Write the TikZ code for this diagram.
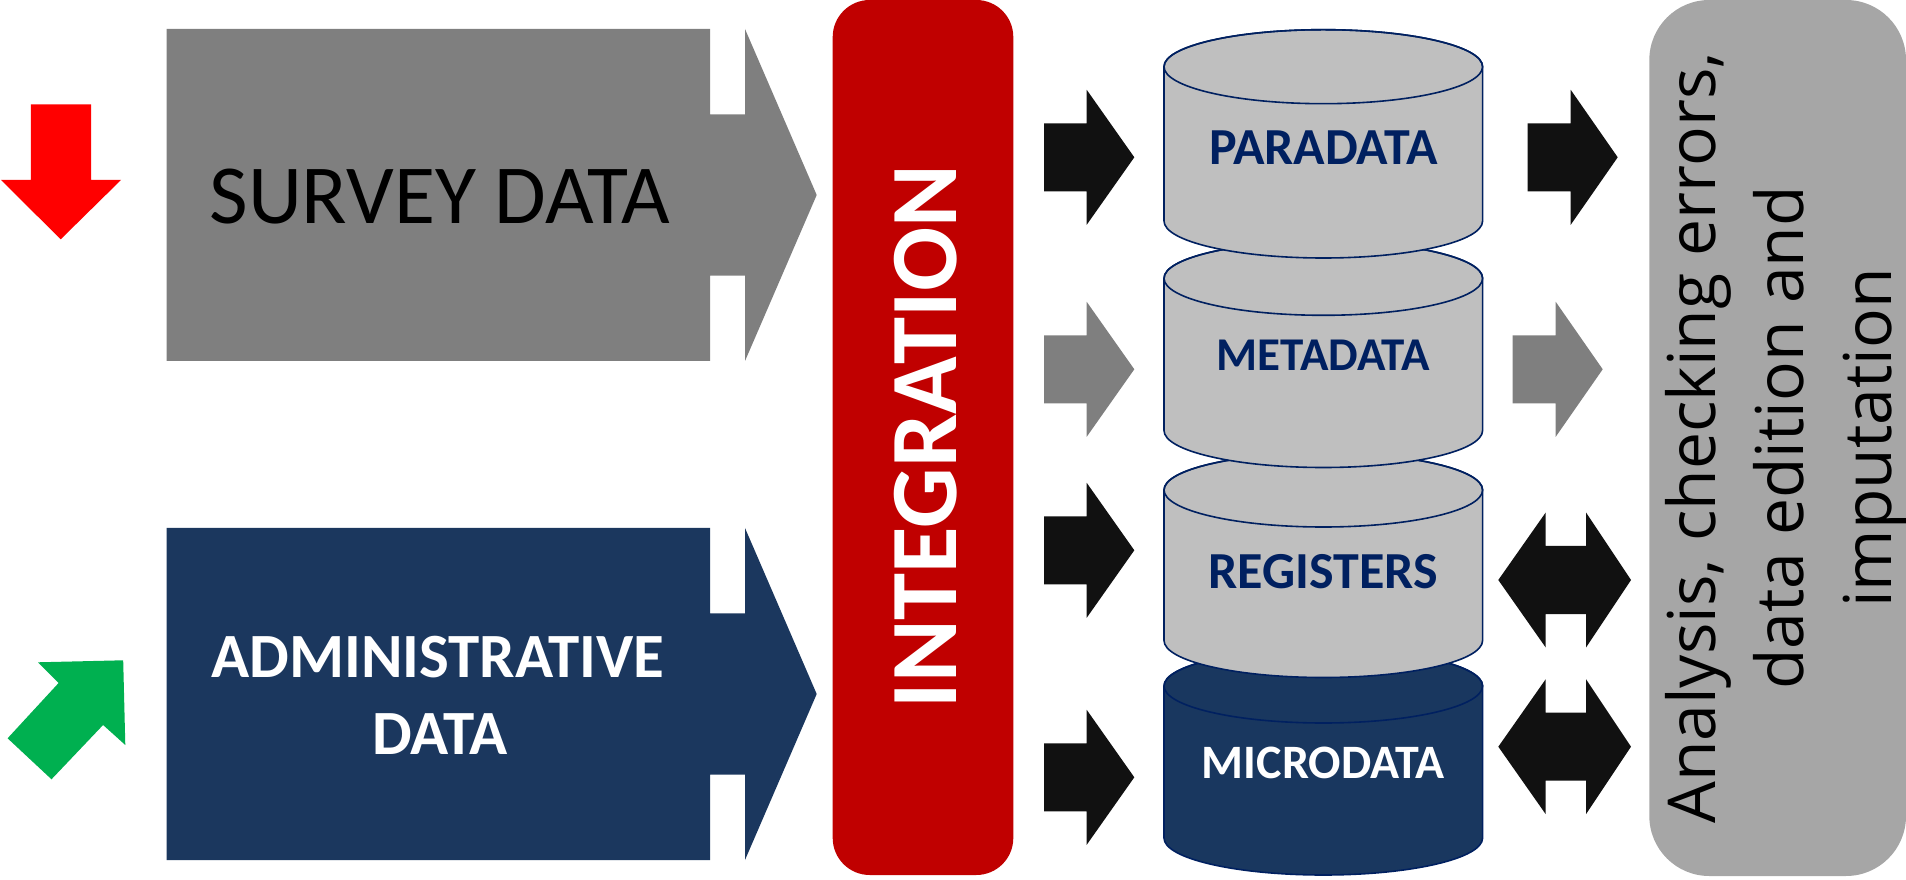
\documentclass[tikz,border=0pt]{standalone}
\usepackage{fontspec}
\setmainfont{Carlito}
\newfontfamily\rtext{Open Sans}
\definecolor{redarr}{HTML}{FF0000}
\definecolor{greenarr}{HTML}{00B050}
\definecolor{surveyc}{HTML}{7F7F7F}
\definecolor{navyc}{HTML}{1B375E}
\definecolor{integc}{HTML}{C00000}
\definecolor{blkc}{HTML}{111111}
\definecolor{cylfill}{HTML}{BFBFBF}
\definecolor{cylline}{HTML}{002060}
\definecolor{microc}{HTML}{19375F}
\definecolor{rightc}{HTML}{A6A6A6}
\newcommand\blkarrow[5]{\fill[#1] (#2,#5+34) -- (#3,#5+34) -- (#3,#5+67.5) -- (#4,#5) -- (#3,#5-67.5) -- (#3,#5-34) -- (#2,#5-34) -- cycle;}
\newcommand\dblarrow[5]{\fill[blkc] (#1,#5) -- (#2,#5+67.5) -- (#2,#5+34) -- (#3,#5+34) -- (#3,#5+67.5) -- (#4,#5) -- (#3,#5-67.5) -- (#3,#5-34) -- (#2,#5-34) -- (#2,#5-67.5) -- cycle;}
\newcommand\dbcyl[3]{%
  \filldraw[fill=#1, draw=cylline, line width=1.6pt] (1164,#3) -- (1164,#2) arc[start angle=180,end angle=0,x radius=159.3,y radius=37] -- (1482.6,#3) arc[start angle=0,end angle=-180,x radius=159.3,y radius=37] -- cycle;
  \draw[cylline, line width=1.6pt] (1323.3,#2) ellipse[x radius=159.3, y radius=37];}
\tikzset{lbl/.style={anchor=base, inner sep=0pt}}
\begin{document}
\begin{tikzpicture}[x=1pt,y=1pt]
\useasboundingbox (0,0) rectangle (1906,879);
% red down arrow
\fill[redarr] (30.9,774.7) -- (91,774.7) -- (91,699) -- (121,699) -- (60.7,639.7) -- (1,699) -- (30.9,699) -- cycle;
% green arrow
\fill[greenarr] (38,216.7) -- (123.2,218.7) -- (125.3,134) -- (103.1,154) -- (51.5,99.7) -- (7.6,140.7) -- (58.6,196) -- cycle;
% survey box
\fill[surveyc] (166.5,850) -- (710,850) -- (710,764.7) -- (745,764.7) -- (745,850) -- (816.7,684) -- (745,518) -- (745,603.3) -- (710,603.3) -- (710,518) -- (166.5,518) -- cycle;
\node[lbl, font=\fontsize{84}{100}\selectfont] (survey) at (440,655) {SURVEY DATA};
% administrative box
\fill[navyc] (166.5,351) -- (710,351) -- (710,265.7) -- (745,265.7) -- (745,351) -- (816.7,185) -- (745,19) -- (745,104.3) -- (710,104.3) -- (710,19) -- (166.5,19) -- cycle;
\node[lbl, font=\bfseries\fontsize{63}{76}\selectfont, text=white] (admin1) at (438,201.7) {ADMINISTRATIVE};
\node[lbl, font=\bfseries\fontsize{63}{76}\selectfont, text=white] (admin2) at (440,125) {DATA};
% integration
\fill[integc, rounded corners=37] (832.7,4) rectangle (1013.3,879);
\node[lbl, font=\bfseries\fontsize{95}{110}\selectfont, text=white, rotate=90] (integ) at (956,442.3) {INTEGRATION};
% left arrows
\blkarrow{blkc}{1044}{1086.7}{1134.3}{721.7}
\blkarrow{surveyc}{1044}{1086.7}{1134.3}{509.7}
\blkarrow{blkc}{1044}{1086.7}{1134.3}{328.7}
\blkarrow{blkc}{1044}{1086.7}{1134.3}{101.7}
% cylinders
\dbcyl{microc}{193}{41}
\dbcyl{cylfill}{389}{238.5}
\dbcyl{cylfill}{600.7}{448.5}
\dbcyl{cylfill}{812.3}{658}
\node[lbl, font=\bfseries\fontsize{52}{60}\selectfont, text=cylline] (para) at (1323.3,714) {PARADATA};
\node[lbl, font=\bfseries\fontsize{47}{54}\selectfont, text=cylline] (meta) at (1323.3,508.3) {METADATA};
\node[lbl, font=\bfseries\fontsize{52}{60}\selectfont, text=cylline] (regs) at (1323.3,290.7) {REGISTERS};
\node[lbl, font=\bfseries\fontsize{48}{55}\selectfont, text=white] (micro) at (1323.3,101) {MICRODATA};
% right arrows
\blkarrow{blkc}{1527.7}{1570.7}{1617.7}{721.7}
\blkarrow{surveyc}{1512.7}{1555.7}{1602.7}{509.7}
\dblarrow{1498.3}{1545.7}{1586}{1631}{299}
\dblarrow{1498.3}{1545.7}{1586}{1631}{132.3}
% right box
\fill[rightc, rounded corners=60] (1649.3,3) rectangle (1906,879);
\node[lbl, font=\rtext\fontsize{66}{80}\selectfont, rotate=90] (an1) at (1715,441) {Analysis, checking errors,};
\node[lbl, font=\rtext\fontsize{66}{80}\selectfont, rotate=90] (an2) at (1803.3,441) {data edition and};
\node[lbl, font=\rtext\fontsize{66}{80}\selectfont, rotate=90] (an3) at (1891.7,441) {imputation};
\end{tikzpicture}
\end{document}
